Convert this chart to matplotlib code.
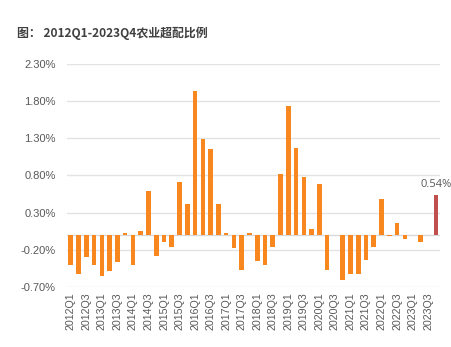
import numpy as np
import matplotlib.pyplot as plt

plt.rcParams['font.family'] = ['Liberation Sans', 'DejaVu Sans']

# 季度标签 2012Q1 - 2023Q4
years = list(range(2012, 2024))
quarters = [f"{y}Q{q}" for y in years for q in range(1, 5)]

# 农业超配比例（%）
ratio = [-0.41, -0.52, -0.30, -0.40, -0.55, -0.48, -0.37, 0.03, -0.40, 0.05,
         0.59, -0.28, -0.10, -0.16, 0.71, 0.41, 1.94, 1.29, 1.15, 0.41,
         0.03, -0.18, -0.47, 0.03, -0.35, -0.41, -0.16, 0.82, 1.73, 1.17,
         0.78, 0.08, 0.68, -0.47, 0.00, -0.61, -0.52, -0.52, -0.34, -0.16,
         0.48, -0.01, 0.16, -0.06, 0.00, -0.09, 0.00, 0.54]

yticks = [-0.70, -0.20, 0.30, 0.80, 1.30, 1.80, 2.30]

orange = "#F7871E"
red = "#C0504D"
colors = [orange] * (len(ratio) - 1) + [red]

fig = plt.figure(figsize=(4.52, 3.47), dpi=100)
ax = fig.add_axes([0.148, 0.173, 0.825, 0.643])

x = np.arange(len(ratio))
ax.bar(x, ratio, width=0.6, color=colors, zorder=3)
ax.axhline(0, color="#D9D9D9", linewidth=1, zorder=2)

ax.set_ylim(-0.70, 2.30)
ax.set_xlim(-0.5, len(ratio) - 0.5)
ax.set_yticks(yticks)
ax.set_yticklabels([f"{v:.2f}%" for v in yticks], fontsize=8, color="#595959")
ax.set_xticks(x[::2])
ax.set_xticklabels(quarters[::2], rotation=90, fontsize=7.7, color="#595959")
ax.tick_params(axis="y", length=0, pad=8)
ax.tick_params(axis="x", length=0, pad=4)
ax.grid(axis="y", color="#E3E3E3", linewidth=1, zorder=0)
for s in ax.spines.values():
    s.set_visible(False)

# 最新一期数值标注
ax.text(x[-1], ratio[-1] + 0.07, f"{ratio[-1]:.2f}%", ha="center", va="bottom",
        fontsize=8, color="#595959", family=["Open Sans", "DejaVu Sans"])

fig.text(0.038, 0.905, "图： 2012Q1-2023Q4农业超配比例", fontsize=8.6,
         fontweight="bold", color="#404040", va="center",
         family=["Noto Sans CJK SC", "DejaVu Sans"])

fig.savefig("out.png", dpi=100)
